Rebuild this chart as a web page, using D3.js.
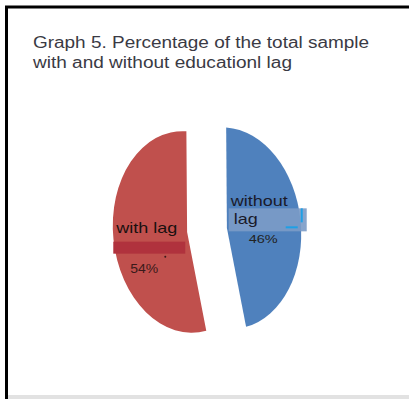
<!DOCTYPE html>
<html>
<head>
<meta charset="utf-8">
<script src="https://cdn.jsdelivr.net/npm/d3@7"></script>
<style>
  html, body { margin: 0; padding: 0; background: #fff; }
  svg { display: block; }
</style>
</head>
<body>
<script>
// data
var categories = ["without lag", "with lag"];
var values = [46, 54];
var pctLabels = ["46%", "54%"];
var titleLines = ["Graph 5. Percentage of the total sample", "with and without educationl lag"];
var colors = ["#4f81bd", "#c0504d"];

var W = 409, H = 399;
var svg = d3.select("body").append("svg").attr("width", W).attr("height", H);

// frame
svg.append("rect").attr("x", 8).attr("y", 395).attr("width", W - 8).attr("height", 4).attr("fill", "#e2e2e2");
svg.append("line").attr("x1", 5).attr("y1", 7).attr("x2", W).attr("y2", 7)
	.attr("stroke", "#000").attr("stroke-width", 3);
svg.append("line").attr("x1", 6.5).attr("y1", 6).attr("x2", 6.5).attr("y2", H)
	.attr("stroke", "#000").attr("stroke-width", 3);

// title
svg.append("g").selectAll("text").data(titleLines).enter().append("text")
	.attr("x", 33).attr("y", function(d, i) { return 48 + i * 20; })
	.attr("font-family", "Liberation Sans, Arial, sans-serif")
	.attr("font-size", 16).attr("fill", "#3a3a44")
	.attr("textLength", function(d, i) { return i == 0 ? 336 : 259; })
	.attr("lengthAdjust", "spacingAndGlyphs")
	.text(function(d) { return d; });

// pie, squashed and tilted
var cx = 207, cy = 230, sx = 0.74, sy = 1.01, tilt = -5.7, explode = 20;
var half = values[0] / d3.sum(values) * Math.PI;
var pie = d3.pie().sort(null).startAngle(Math.PI / 2 - half).endAngle(Math.PI / 2 - half + 2 * Math.PI);
var arcs = pie(values);
var arc = d3.arc().innerRadius(0).outerRadius(100);

var g = svg.append("g").attr("transform", "translate(" + cx + "," + cy + ") rotate(" + tilt + ")");

var slices = g.selectAll("g.slice").data(arcs).enter().append("g").attr("class", "slice")
	.attr("transform", function(d) {
		var a = (d.startAngle + d.endAngle) / 2;
		return "translate(" + (Math.sin(a) * explode) + "," + (-Math.cos(a) * explode) + ") scale(" + sx + "," + sy + ")";
	});
slices.append("path").attr("d", arc).attr("fill", function(d, i) { return colors[i]; });

// screen position of a point inside a slice
function toScreen(d, px, py) {
	var a = (d.startAngle + d.endAngle) / 2;
	var x = Math.sin(a) * explode + px * sx, y = -Math.cos(a) * explode + py * sy;
	var t = tilt * Math.PI / 180;
	return [cx + x * Math.cos(t) - y * Math.sin(t), cy + x * Math.sin(t) + y * Math.cos(t)];
}

var font = "Liberation Sans, Arial, sans-serif";
var lab = svg.append("g").attr("font-family", font).attr("lengthAdjust", "spacingAndGlyphs");

function txt(x, y, size, len, fill, s) {
	lab.append("text").attr("x", x).attr("y", y).attr("font-size", size)
		.attr("textLength", len).attr("lengthAdjust", "spacingAndGlyphs")
		.attr("fill", fill).text(s);
}

// without lag (blue)
var bc = arc.centroid(arcs[0]);
var bp = toScreen(arcs[0], bc[0], bc[1]);
lab.append("rect").attr("x", bp[0] - 35).attr("y", bp[1] - 16).attr("width", 78).attr("height", 23)
	.attr("fill", "#7b9bc6").attr("opacity", 0.9);
lab.append("rect").attr("x", bp[0] + 22).attr("y", bp[1] + 2).attr("width", 12).attr("height", 2).attr("fill", "#1ea0e6");
lab.append("rect").attr("x", bp[0] + 37).attr("y", bp[1] - 16).attr("width", 2).attr("height", 14).attr("fill", "#1ea0e6");
txt(bp[0] - 33, bp[1] - 18, 15, 57, "#1a1a2a", "without");
txt(bp[0] - 30, bp[1] + 0, 15, 24, "#1a1a2a", "lag");
txt(bp[0] - 15, bp[1] + 19, 10, 29, "#222", pctLabels[0]);

// with lag (red)
var rc = arc.centroid(arcs[1]);
var rp = toScreen(arcs[1], rc[0], rc[1]);
lab.append("rect").attr("x", rp[0] - 37).attr("y", rp[1] + 6).attr("width", 72).attr("height", 12)
	.attr("fill", "#b0323d");
lab.append("circle").attr("cx", rp[0] + 15).attr("cy", rp[1] + 21).attr("r", 1).attr("fill", "#3a1a1a");
txt(rp[0] - 34, rp[1] - 3, 15, 61, "#1a1010", categories[1]);
txt(rp[0] - 20, rp[1] + 37, 12, 28, "#3a1a1a", pctLabels[1]);
</script>
</body>
</html>
